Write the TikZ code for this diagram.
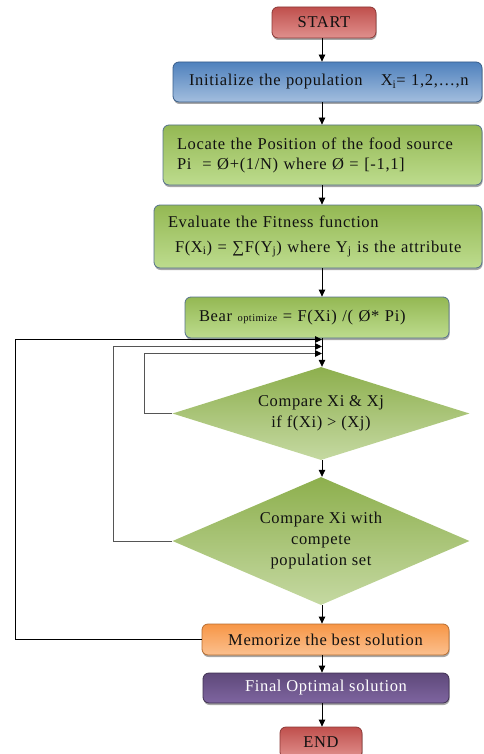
\documentclass[tikz,border=0pt]{standalone}
\usepackage{fontspec}
\setmainfont{Liberation Serif}[LetterSpace=4]
\usetikzlibrary{shapes.geometric,arrows.meta,shadows}
\definecolor{txt}{HTML}{111111}
\definecolor{redtop}{HTML}{C0504D}
\definecolor{redbot}{HTML}{E0908D}
\definecolor{redline}{HTML}{8C3836}
\definecolor{bluetop}{HTML}{4F81BD}
\definecolor{bluebot}{HTML}{A3BEDE}
\definecolor{blueline}{HTML}{385D8A}
\definecolor{greentop}{HTML}{94B853}
\definecolor{greenbot}{HTML}{BDDC8E}
\definecolor{greenline}{HTML}{55718C}
\definecolor{diamtop}{HTML}{8DAF4D}
\definecolor{diambot}{HTML}{C5D9A2}
\definecolor{orangetop}{HTML}{F79646}
\definecolor{orangebot}{HTML}{FBC08F}
\definecolor{orangeline}{HTML}{B66D31}
\definecolor{purpletop}{HTML}{5F497A}
\definecolor{purplebot}{HTML}{7E65A0}
\definecolor{purpleline}{HTML}{3F3051}
\definecolor{fbgray}{HTML}{555555}
\begin{document}
\begin{tikzpicture}[x=1pt,y=-1pt,
  base/.style={rounded corners=6pt, line width=0.8pt, inner sep=0pt,
    font=\fontsize{16.5}{20}\selectfont, text=txt,
    drop shadow={shadow xshift=0.6pt, shadow yshift=-2pt, opacity=0.35, fill=black}},
  redbox/.style={base, top color=redtop, bottom color=redbot, draw=redline},
  bluebox/.style={base, top color=bluetop, bottom color=bluebot, draw=blueline},
  greenbox/.style={base, top color=greentop, bottom color=greenbot, draw=greenline},
  orangebox/.style={base, top color=orangetop, bottom color=orangebot, draw=orangeline},
  purplebox/.style={base, top color=purpletop, bottom color=purplebot, draw=purpleline, text=white},
  diam/.style={diamond, inner sep=0pt, top color=diamtop, bottom color=diambot, draw=none,
    font=\fontsize{16.5}{21}\selectfont, text=txt, align=center},
  arr/.style={line width=0.8pt, draw=black, -{Triangle[length=7pt,width=6.5pt]}},
  fbline/.style={line width=1pt, draw=fbgray, -{Triangle[length=7pt,width=6.5pt,color=black]}},
  fbouter/.style={line width=0.9pt, draw=black, -{Triangle[length=7pt,width=6.5pt]}}
]
\useasboundingbox (0,0) rectangle (483,754);
\clip (0,0) rectangle (483,754);

\coordinate (ax) at (322,0);
\coordinate (la) at (15,339.5);
\coordinate (lb) at (113,346.5);
\coordinate (lc) at (144,353.5);

\node[redbox, minimum width=104pt, minimum height=31pt] (start) at (324,22.5) {START};
\node[bluebox, minimum width=309pt, minimum height=40pt, text width=285pt, inner xsep=12pt, align=left]
  (init) at (327.5,82) {\hspace*{4pt}Initialize the population\hspace{1.1em}X\textsubscript{i}= 1,2,…,n};
\node[greenbox, minimum height=60pt, text width=295pt, inner xsep=12pt, align=left]
  (locate) at (322.5,155) {\hspace*{2pt}Locate the Position of the food source\\\hspace*{2pt}Pi \ = Ø+(1/N) where Ø = [-1,1]};
\node[greenbox, minimum height=63pt, text width=310pt, inner xsep=9pt, align=left]
  (eval) at (318,236.5) {\hspace*{5pt}Evaluate the Fitness function\\[5pt]\hspace*{12pt}F(X\textsubscript{i}) = ∑F(Y\textsubscript{j}) where Y\textsubscript{j} is the attribute};
\node[greenbox, minimum height=41pt, text width=240pt, inner xsep=12pt, align=left]
  (bear) at (317,317.5) {\hspace*{2pt}Bear {\fontsize{10.5}{10}\selectfont optimize} = F(Xi) /( Ø* Pi)};
\node[diam, minimum width=297pt, minimum height=93pt, shape aspect=3.2]
  (d1) at (321,413.5) {Compare Xi \& Xj\\if f(Xi) > (Xj)};
\node[diam, minimum width=297pt, minimum height=128pt, shape aspect=2.3]
  (d2) at (321,541) {Compare Xi with\\compete\\population set};
\node[orangebox, minimum width=247pt, minimum height=31pt] (mem) at (325.5,639.5) {Memorize the best solution};
\node[purplebox, minimum width=246pt, minimum height=30pt] (final) at (326,688) {Final Optimal solution};
\node[redbox, minimum width=82pt, minimum height=31pt] (end) at (321,742.5) {END};

\draw[arr] (start.south -| ax) -- (init.north -| ax);
\draw[arr] (init.south -| ax) -- (locate.north -| ax);
\draw[arr] (locate.south -| ax) -- (eval.north -| ax);
\draw[arr] (eval.south -| ax) -- (bear.north -| ax);
\draw[arr] (bear.south -| ax) -- (d1.north -| ax);
\draw[arr] (d1.south -| ax) -- (d2.north -| ax);
\draw[arr] (d2.south -| ax) -- (mem.north -| ax);
\draw[arr] (mem.south -| ax) -- (final.north -| ax);
\draw[arr] (final.south -| ax) -- (end.north -| ax);

\draw[fbouter] (mem.west) -| (la) -- (la -| ax);
\draw[fbline] (d2.west) -| (lb) -- (lb -| ax);
\draw[fbline] (d1.west) -| (lc) -- (lc -| ax);
\end{tikzpicture}
\end{document}
